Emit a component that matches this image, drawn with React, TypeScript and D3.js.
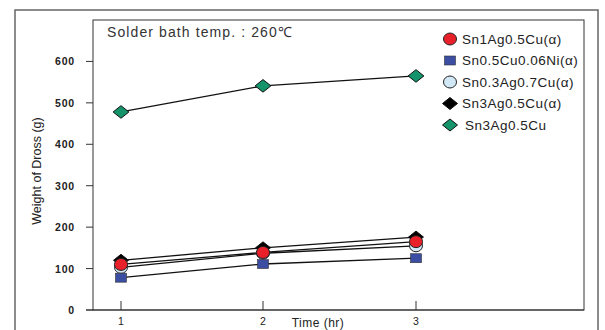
import React from "react";
import * as d3 from "d3";

const times = [1, 2, 3];
const seriesNames = [
  "Sn1Ag0.5Cu(α)",
  "Sn0.5Cu0.06Ni(α)",
  "Sn0.3Ag0.7Cu(α)",
  "Sn3Ag0.5Cu(α)",
  "Sn3Ag0.5Cu",
];
const sn1ag = [110, 139, 165];
const sn05cu = [78, 111, 125];
const sn03ag = [103, 137, 155];
const sn3agAlpha = [120, 150, 176];
const sn3ag = [478, 541, 565];
const yTicks = [0, 100, 200, 300, 400, 500, 600];
const xTicks = [1, 2, 3];

type Shape = "circle" | "square" | "diamond";
const styles: { fill: string; shape: Shape }[] = [
  { fill: "#e8202a", shape: "circle" },
  { fill: "#3b4ea2", shape: "square" },
  { fill: "#d2e8f6", shape: "circle" },
  { fill: "#000000", shape: "diamond" },
  { fill: "#15936a", shape: "diamond" },
];
const values = [sn1ag, sn05cu, sn03ag, sn3agAlpha, sn3ag];

function Marker({ shape, fill, x, y, s = 1 }: { shape: Shape; fill: string; x: number; y: number; s?: number }) {
  if (shape === "circle")
    return <ellipse cx={x} cy={y} rx={6.5 * s} ry={6 * s} fill={fill} stroke="#222" strokeWidth={1} />;
  if (shape === "square")
    return <rect x={x - 5.5 * s} y={y - 4.5 * s} width={11 * s} height={9 * s} fill={fill} stroke="#333" strokeWidth={0.6} />;
  return (
    <path
      d={`M${x},${y - 6 * s}L${x + 7.5 * s},${y}L${x},${y + 6 * s}L${x - 7.5 * s},${y}Z`}
      fill={fill}
      stroke="#111"
      strokeWidth={1}
    />
  );
}

export default function App() {
  const W = 605, H = 330;
  const left = 93, right = 584, top = 20, bottom = 310;
  const x = d3.scaleLinear().domain([1, 2, 3]).range([121, 263, 416]);
  const y = d3.scaleLinear().domain([0, 700]).range([bottom, top]);
  const line = d3.line<number>().x((_, i) => x(times[i])).y((v) => y(v));
  const drawOrder = [4, 3, 2, 1, 0];
  const font = "'Liberation Sans', Arial, sans-serif";
  return (
    <svg width={W} height={H} style={{ position: "absolute", left: 0, top: 0, background: "#fff" }} fontFamily={font}>
      <rect x={15} y={10} width={583} height={330} fill="none" stroke="#666" strokeWidth={1.5} />
      <rect x={left} y={top} width={right - left} height={bottom - top} fill="none" stroke="#333" strokeWidth={1} />
      <line x1={86} x2={right} y1={bottom} y2={bottom} stroke="#333" strokeWidth={1.2} />
      {yTicks.map((t) => (
        <g key={t}>
          <line x1={86} x2={left} y1={y(t)} y2={y(t)} stroke="#333" strokeWidth={1} />
          <text x={75} y={y(t) + 4} textAnchor="end" fontSize={10.5} fontWeight="bold" letterSpacing={0.8} fill="#222">
            {t}
          </text>
        </g>
      ))}
      {xTicks.map((t) => (
        <g key={t}>
          <line x1={x(t)} x2={x(t)} y1={bottom - 9} y2={bottom} stroke="#333" strokeWidth={1} />
          <text x={x(t)} y={325} textAnchor="middle" fontSize={10.5} fill="#222">
            {t}
          </text>
        </g>
      ))}
      <text x={318} y={327} textAnchor="middle" fontSize={12} letterSpacing={0.5} fill="#222">
        Time (hr)
      </text>
      <text
        transform={`translate(41,171) rotate(-90)`}
        textAnchor="middle"
        fontSize={12.5}
        fill="#222"
      >
        Weight of Dross (g)
      </text>
      <text x={107} y={37} fontSize={14} fill="#333" letterSpacing={1.1}>
        Solder bath temp. : 260℃
      </text>
      {drawOrder.map((i) => (
        <path key={"l" + i} d={line(values[i]) || ""} fill="none" stroke="#111" strokeWidth={1.3} />
      ))}
      {drawOrder.map((i) =>
        values[i].map((v, j) => (
          <Marker key={`m${i}-${j}`} shape={styles[i].shape} fill={styles[i].fill} x={x(times[j])} y={y(v)} s={i === 4 ? 1.05 : 1} />
        ))
      )}
      {seriesNames.map((name, i) => {
        const ly = 39 + i * 21.5;
        return (
          <g key={name}>
            <Marker shape={styles[i].shape} fill={styles[i].fill} x={450} y={ly} s={1} />
            <text x={i === 4 ? 465 : 462} y={ly + 4.5} fontSize={13.5} letterSpacing={0.5} fill="#222">
              {name}
            </text>
          </g>
        );
      })}
    </svg>
  );
}
